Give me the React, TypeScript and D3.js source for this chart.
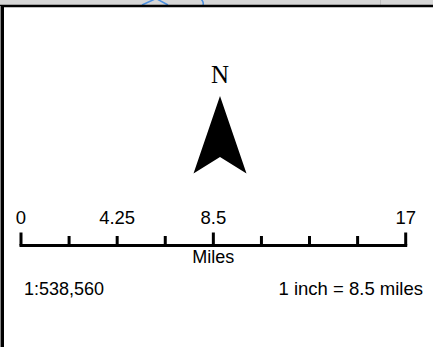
import React from "react";
import * as d3 from "d3";

const tickValues = [0, 2.125, 4.25, 6.375, 8.5, 10.625, 12.75, 14.875, 17];
const majorTicks = [0, 8.5, 17];
const labelValues = ["0", "4.25", "8.5", "17"];
const unitLabel = "Miles";
const scaleText = "1:538,560";
const ratioText = "1 inch = 8.5 miles";
const northLabel = "N";

const W = 433;
const H = 347;
const FONT = "'Liberation Sans', Arial, sans-serif";

export default function App() {
  const x = d3.scaleLinear().domain([0, 17]).range([21, 405.7]);
  const baseY = 245.5;
  const arrow = d3.line()([
    [220, 96],
    [246.5, 173.5],
    [220, 157],
    [193.5, 173.5],
  ]) + "Z";
  return (
    <svg
      width={W}
      height={H}
      style={{ position: "fixed", left: 0, top: 0, background: "#fff" }}
    >
      <rect x={0} y={0} width={W} height={5} fill="#d6d6d6" />
      <line x1={380.5} y1={0} x2={380.5} y2={5} stroke="#bdbdbd" strokeWidth={1} />
      <path d="M142,5 L155,-1 M157,-1 L168,5" stroke="#4a8fe0" strokeWidth={1.5} fill="none" />
      <path d="M201,-1 Q204,2 203,5" stroke="#4a8fe0" strokeWidth={1.5} fill="none" />
      <line x1={0} y1={6} x2={W} y2={6} stroke="#000" strokeWidth={2.6} />
      <line x1={2.5} y1={6} x2={2.5} y2={H} stroke="#000" strokeWidth={3} />
      <line x1={0.5} y1={6} x2={0.5} y2={H} stroke="#888" strokeWidth={1} />

      <text x={220} y={82.5} textAnchor="middle" fontFamily="'Liberation Serif', 'Times New Roman', serif" fontSize={25} fill="#000">
        {northLabel}
      </text>
      <path d={arrow} fill="#000" />

      <line x1={x(0) - 1.5} x2={x(17) + 1.5} y1={baseY} y2={baseY} stroke="#000" strokeWidth={3} />
      {tickValues.map((v) => (
        <line
          key={v}
          x1={x(v)}
          x2={x(v)}
          y1={baseY}
          y2={majorTicks.includes(v) ? 232.5 : 236}
          stroke="#000"
          strokeWidth={3}
        />
      ))}
      {labelValues.map((l) => (
        <text key={l} x={x(+l)} y={223.5} textAnchor="middle" fontFamily={FONT} fontSize={18.5} fill="#000">
          {l}
        </text>
      ))}
      <text x={x(8.5)} y={262.5} textAnchor="middle" fontFamily={FONT} fontSize={18} fill="#000">
        {unitLabel}
      </text>
      <text x={24} y={294.5} fontFamily={FONT} fontSize={18} fill="#000">
        {scaleText}
      </text>
      <text x={423} y={294.5} textAnchor="end" fontFamily={FONT} fontSize={18.5} fill="#000">
        {ratioText}
      </text>
    </svg>
  );
}
